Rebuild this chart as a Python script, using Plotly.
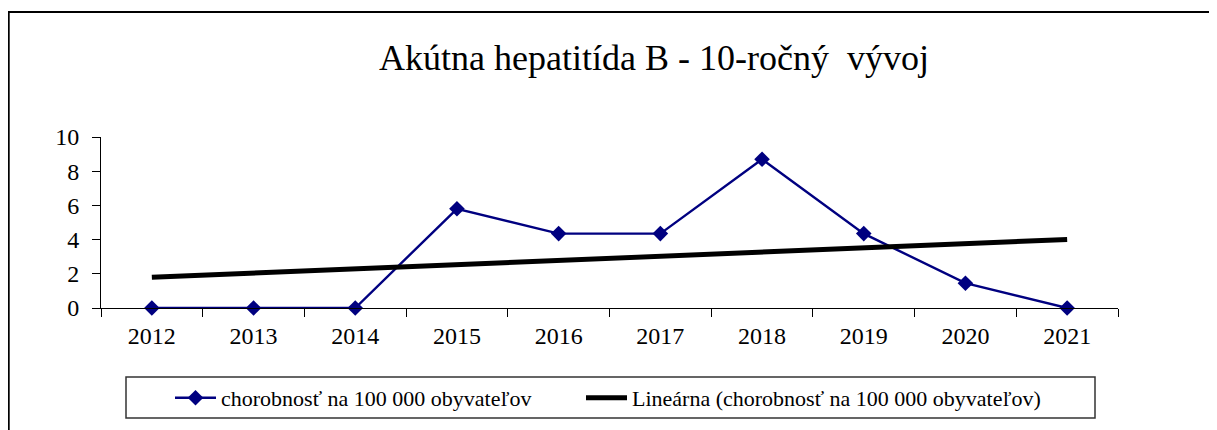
import numpy as np
import plotly.graph_objects as go

years = ["2012", "2013", "2014", "2015", "2016", "2017", "2018", "2019", "2020", "2021"]
morbidity = [0, 0, 0, 5.8, 4.35, 4.35, 8.7, 4.35, 1.45, 0]
series_name = "chorobnosť na 100 000 obyvateľov"
trend_name = "Lineárna (chorobnosť na 100 000 obyvateľov)"
title_text = "Akútna hepatitída B - 10-ročný  vývoj"

# linear trend (Excel-style least squares on category index)
xi = np.arange(1, len(morbidity) + 1)
slope, intercept = np.polyfit(xi, morbidity, 1)
trend = slope * xi + intercept

OFF = 8  # page body margin of the browser
W, H = 1217 - OFF, 430 - OFF
# target screen positions of the plot area
SL, SR, ST, SB = 101, 1118, 137, 308
L, T = SL - OFF, ST - OFF
R = W - (SR - OFF)
B = H - (SB - OFF)
pw, ph = W - L - R, H - T - B


def px(x):
    return (x - OFF - L) / pw


def py(y):
    return (H - B - (y - OFF)) / ph


serif = "Liberation Serif"

fig = go.Figure()
fig.add_trace(go.Scatter(
    x=years, y=morbidity, name=series_name, mode="lines+markers",
    line=dict(color="#000080", width=2.4),
    marker=dict(symbol="diamond", size=12, color="#000080"),
    cliponaxis=False, legendwidth=355,
))
fig.add_trace(go.Scatter(
    x=years, y=trend, name=trend_name, mode="lines",
    line=dict(color="black", width=5),
    cliponaxis=False, legendwidth=470,
))

fig.update_layout(
    width=W, height=H,
    margin=dict(l=L, r=R, t=T, b=B, pad=0, autoexpand=False),
    paper_bgcolor="white", plot_bgcolor="white",
    font=dict(family=serif, color="black", size=22),
    title=dict(text=title_text, x=(654 - OFF) / W, xanchor="center", xref="container",
               y=1 - (57 - OFF) / H, yanchor="middle",
               font=dict(family=serif, size=36, color="black")),
    showlegend=True,
    legend=dict(orientation="h", x=px(170), y=py(398), xanchor="left", yanchor="middle",
                bgcolor="rgba(0,0,0,0)", borderwidth=0,
                font=dict(family=serif, size=22, color="black"),
                itemwidth=41, entrywidthmode="pixels", tracegroupgap=0),
    xaxis=dict(type="category", range=[-0.5, len(years) - 0.5], showgrid=False, showline=True,
               linecolor="black", linewidth=1,
               ticks="outside", ticklen=8, tickcolor="black", tickson="boundaries",
               ticklabelstandoff=6,
               tickfont=dict(family=serif, size=24), zeroline=False, fixedrange=True),
    yaxis=dict(range=[0, 10], dtick=2, showgrid=False, showline=True, linecolor="black", linewidth=1,
               ticks="outside", ticklen=8, tickcolor="black", zeroline=False,
               ticklabelstandoff=8,
               tickfont=dict(family=serif, size=24), fixedrange=True),
    shapes=[
        # outer chart frame
        dict(type="rect", xref="paper", yref="paper", x0=px(8.8), x1=px(1240), y0=py(12), y1=py(460),
             line=dict(color="black", width=1.8), fillcolor="rgba(0,0,0,0)", layer="below"),
        # legend box
        dict(type="rect", xref="paper", yref="paper", x0=px(126), x1=px(1095), y0=py(377), y1=py(418),
             line=dict(color="#333333", width=1.5), fillcolor="rgba(0,0,0,0)", layer="below"),
    ],
)

fig.write_html("out.html")
